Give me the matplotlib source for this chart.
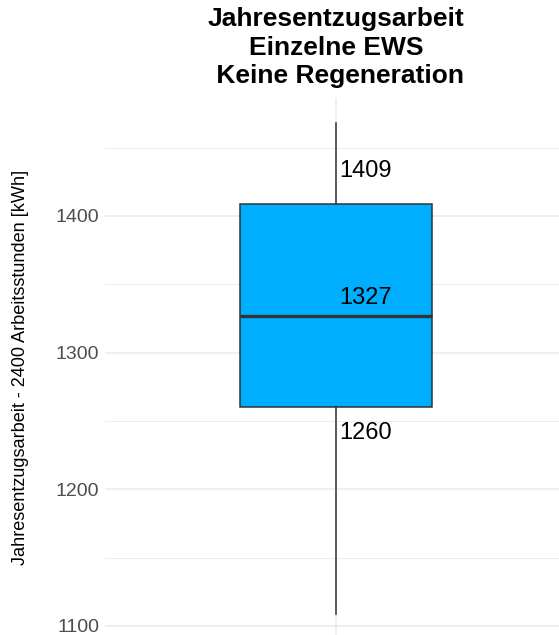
import matplotlib
matplotlib.use("Agg")
import matplotlib.pyplot as plt
from matplotlib.ticker import MultipleLocator

plt.rcParams['font.family'] = ['Liberation Sans', 'DejaVu Sans']

# data (box statistics)
category = ["Einzelne EWS"]
whisker_low = [1109]
q1 = [1260]
median = [1327]
q3 = [1409]
whisker_high = [1468]
yticks = [1100, 1200, 1300, 1400]

W, H = 559, 635
fig = plt.figure(figsize=(W / 100, H / 100), dpi=100)
ax = fig.add_axes([105 / W, -3.3 / H, 462 / W, 540 / H])

stats = [dict(label=category[0], whislo=whisker_low[0], q1=q1[0], med=median[0],
              q3=q3[0], whishi=whisker_high[0], fliers=[])]
ax.bxp(stats, positions=[1], widths=0.5, patch_artist=True, showcaps=False,
       boxprops=dict(facecolor='#00AEFF', edgecolor='#333333', linewidth=1.1),
       medianprops=dict(color='#333333', linewidth=2.4),
       whiskerprops=dict(color='#333333', linewidth=1.1), zorder=3)

ax.set_xlim(0.4, 1.6)
ax.set_ylim(1091, 1486)
ax.set_yticks(yticks)
ax.yaxis.set_minor_locator(MultipleLocator(50))
ax.set_xticks([1])
ax.set_xticklabels([''])
ax.grid(True, which='major', color='#EBEBEB', linewidth=1.1, zorder=0)
ax.grid(True, which='minor', axis='y', color='#EBEBEB', linewidth=0.6, zorder=0)
ax.set_axisbelow(True)
for s in ax.spines.values():
    s.set_visible(False)
ax.tick_params(axis='both', which='both', length=0)
ax.tick_params(axis='y', labelsize=14, labelcolor='#4D4D4D', pad=4)
ax.set_ylabel('Jahresentzugsarbeit - 2400 Arbeitsstunden [kWh]', fontsize=13.1, color='black',
              va='center')
ax.yaxis.set_label_coords(21 / W, 1 - 367 / H, transform=fig.transFigure)

# value labels: q3 above, median above line, q1 below
offsets = [24, 13, -19]
for val, dy in zip([q3[0], median[0], q1[0]], offsets):
    ax.text(1.008, val + dy, f"{val}", fontsize=17, ha='left', va='center',
            color='black', zorder=5)

fig.text(336 / W, 1 - 7 / H, "Jahresentzugsarbeit\nEinzelne EWS\n Keine Regeneration",
         ha='center', va='top', fontsize=19, fontweight='bold', linespacing=1.25)

fig.savefig('out.png', dpi=100)
